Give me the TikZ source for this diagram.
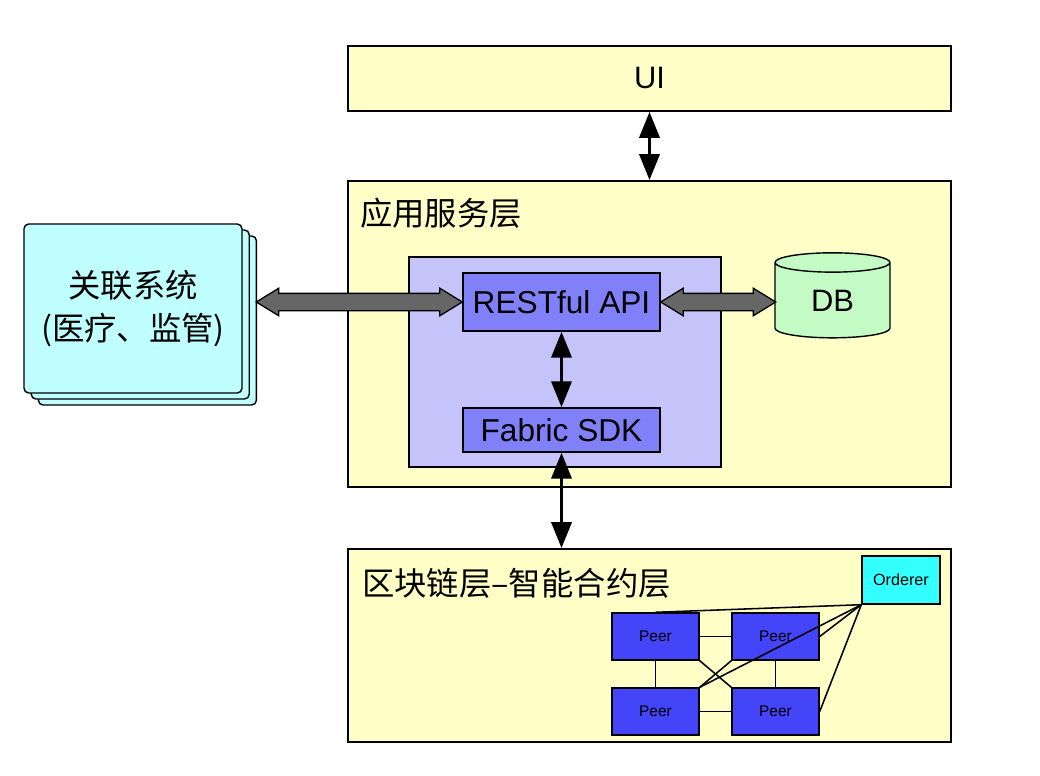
\documentclass[tikz,border=0pt]{standalone}
\usepackage{fontspec}
\setmainfont{Liberation Sans}
\newfontfamily\cjk{Noto Sans CJK SC}
\usetikzlibrary{shapes.geometric,shapes.arrows,shadows,arrows.meta,calc}
\definecolor{layerbg}{HTML}{FFFFC8}
\definecolor{innerbg}{HTML}{C4C4FA}
\definecolor{modbg}{HTML}{8080F8}
\definecolor{dbbg}{HTML}{C4FAC4}
\definecolor{sysbg}{HTML}{C0FFFF}
\definecolor{ordbg}{HTML}{33FFFF}
\definecolor{peerbg}{HTML}{4444F8}
\definecolor{arrgray}{HTML}{666666}
\tikzset{
 layer/.style={draw, line width=1.2pt, fill=layerbg, minimum width=15.075cm, inner sep=0},
 module/.style={draw, line width=1pt, fill=modbg, minimum width=4.925cm, inner sep=0,
   font=\fontsize{22.5}{26}\selectfont},
 peer/.style={draw, line width=1pt, fill=peerbg, minimum width=2.175cm, minimum height=1.175cm,
   inner sep=0, font=\fontsize{11}{13}\selectfont},
 fatarrow/.style={double arrow, draw, line width=0.9pt, fill=arrgray, inner xsep=0, inner ysep=0.2cm,
   minimum width=0.675cm, double arrow head extend=0.13cm, double arrow tip angle=63},
 dblarr/.style={line width=2.6pt, {Triangle[width=0.5cm,length=0.65cm]}-{Triangle[width=0.5cm,length=0.65cm]}},
 link/.style={line width=1.1pt},
 layertitle/.style={anchor=west, inner sep=0, font=\cjk\fontsize{23}{27}\selectfont},
}
\begin{document}
\begin{tikzpicture}[x=0.025cm, y=-0.025cm]
    \useasboundingbox (0,0) rectangle (1040,776);
    \node[layer, minimum height=1.625cm, font=\fontsize{22}{26}\selectfont] (ui) at (649.5,78.5) {UI};
    \node[layer, minimum height=7.65cm] (app) at (649.5,334) {};
    \node[layertitle] at (360,213) {应用服务层};
    \node[draw, line width=1.2pt, fill=innerbg, minimum width=7.8cm, minimum height=5.25cm] (inner) at (565,362) {};
    \node[module, minimum height=1.45cm] (rest) at (561.5,302) {RESTful API};
    \node[module, minimum height=1.1cm] (sdk) at (561.5,430) {Fabric SDK};
    \node[cylinder, shape border rotate=90, draw, line width=1pt, fill=dbbg, aspect=0.45,
        minimum width=2.875cm, minimum height=2.125cm, inner sep=0,
        font=\fontsize{22}{26}\selectfont] (db) at (832.5,300.5) {DB};
    \node[draw, line width=1pt, fill=sysbg, rounded corners=0.12cm, minimum width=5.45cm,
        minimum height=4.225cm, align=center, font=\cjk\fontsize{23}{30.5}\selectfont,
        double copy shadow={shadow xshift=0.18cm, shadow yshift=-0.15cm}] (sys) at (133,308.5)
        {关联系统\\(医疗、监管)};
    \node[layer, minimum height=4.825cm] (chain) at (649.5,645.5) {};
    \node[layertitle] at (362,583) {区块链层–智能合约层};
    \node[draw, line width=1pt, fill=ordbg, minimum width=1.95cm, minimum height=1.2cm, inner sep=0,
        font=\fontsize{11.5}{13}\selectfont] (ord) at (901,580) {Orderer};
    \node[peer] (p1) at (655.5,636.5) {Peer};
    \node[peer] (p2) at (775.5,636.5) {Peer};
    \node[peer] (p3) at (655.5,711.5) {Peer};
    \node[peer] (p4) at (775.5,711.5) {Peer};
    \draw[link] (p1) -- (p2);
    \draw[link] (p3) -- (p4);
    \draw[link] (p1) -- (p3);
    \draw[link] (p2) -- (p4);
    \draw[link] (p1.south east) -- (p4.north west);
    \draw[link] (p3.north east) -- (p2.south west);
    \draw[link] (ord.south west) -- (p1.north);
    \draw[link] (ord.south west) -- (p2.east);
    \draw[link] (ord.south west) -- (p3.north east);
    \draw[link] (ord.south west) -- (p4.east);
    \node[fatarrow, minimum height=5.15cm] (a1) at ($(rest.west)+(-103,0)$) {};
    \node[fatarrow, minimum height=2.875cm] (a2) at ($(rest.east)+(57.5,0)$) {};
    \draw[dblarr] (ui) -- (app);
    \draw[dblarr] (rest) -- (sdk);
    \draw[dblarr] (sdk.south) -- (sdk.south |- chain.north);
\end{tikzpicture}
\end{document}
